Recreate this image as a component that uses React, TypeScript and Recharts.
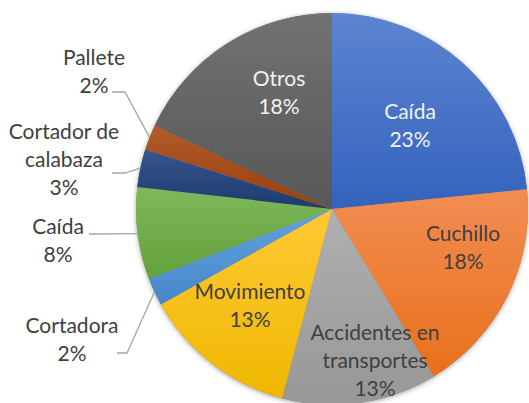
import { PieChart, Pie, Cell } from "recharts";

// causes of accidents, clockwise from 12 o'clock
const categories = [
  "Caída",
  "Cuchillo",
  "Accidentes en transportes",
  "Movimiento",
  "Cortadora",
  "Caída",
  "Cortador de calabaza",
  "Pallete",
  "Otros",
];
const shares = [23.4, 17.9, 12.8, 12.8, 2.3, 7.6, 3.1, 2.1, 18.0];
const labelLines = [
  ["Caída"],
  ["Cuchillo"],
  ["Accidentes en", "transportes"],
  ["Movimiento"],
  ["Cortadora"],
  ["Caída"],
  ["Cortador de", "calabaza"],
  ["Pallete"],
  ["Otros"],
];

const data = categories.map((name, i) => ({ name, value: shares[i] }));
const backdrop = [{ name: "bg", value: 1 }];

const colors: [string, string][] = [
  ["#5C84D1", "#3463BD"],
  ["#F28D52", "#E8701C"],
  ["#B0B0B0", "#979797"],
  ["#FFC935", "#EFB700"],
  ["#62A2DD", "#4787C8"],
  ["#7EB95A", "#63A13A"],
  ["#36558E", "#1E3B6E"],
  ["#B25C2C", "#983F0A"],
  ["#727272", "#575757"],
];

const lightText = [true, false, false, false, false, false, false, false, true];

// label layout: inside -> text center offset from pie center; outside -> text center + leader path
type Layout =
  | { kind: "in"; dx: number; dy: number }
  | { kind: "out"; x: number; y: number; path: [number, number][] };

const layout: Layout[] = [
  { kind: "in", dx: 78, dy: -83 },
  { kind: "in", dx: 131, dy: 39 },
  { kind: "in", dx: 43, dy: 152 },
  { kind: "in", dx: -82, dy: 97 },
  { kind: "out", x: 72, y: 340, path: [[127, 353], [117, 353]] },
  { kind: "out", x: 58, y: 241, path: [[89, 234]] },
  { kind: "out", x: 64, y: 160, path: [[125, 173], [112, 173]] },
  { kind: "out", x: 94, y: 72, path: [[125, 92], [112, 92]] },
  { kind: "in", dx: -53, dy: -116 },
];

const RAD = Math.PI / 180;
const FONT = "Lato, 'Open Sans', sans-serif";
const LINE_H = 28;

function renderLabel(props: any) {
  const { cx, cy, midAngle, outerRadius, index } = props;
  const l = layout[index];
  const lines = [...labelLines[index], Math.round(shares[index]) + "%"];
  const color = lightText[index] ? "#F2F2F2" : "#404040";
  let tx: number, ty: number;
  let leader: JSX.Element | null = null;
  if (l.kind === "in") {
    tx = cx + l.dx;
    ty = cy + l.dy;
  } else {
    tx = l.x;
    ty = l.y;
    const ex = cx + outerRadius * Math.cos(-midAngle * RAD);
    const ey = cy + outerRadius * Math.sin(-midAngle * RAD);
    const pts = [[ex, ey], ...l.path].map((p) => p.join(",")).join(" ");
    leader = <polyline points={pts} fill="none" stroke="#A6A6A6" strokeWidth={1.3} />;
  }
  const top = ty - ((lines.length - 1) * LINE_H) / 2;
  return (
    <g key={"lbl" + index}>
      {leader}
      <text x={tx} y={top} textAnchor="middle" fontFamily={FONT} fontSize={21} fill={color}>
        {lines.map((s, k) => (
          <tspan key={k} x={tx} y={top + k * LINE_H} dy="0.35em">
            {s}
          </tspan>
        ))}
      </text>
    </g>
  );
}

export default function App() {
  return (
    <div style={{ position: "fixed", left: 0, top: 0, background: "#fff" }}>
      <PieChart width={529} height={403} margin={{ top: 0, right: 0, bottom: 0, left: 0 }}>
        <defs>
          {colors.map(([a, b], i) => (
            <linearGradient key={i} id={"g" + i} x1="0" y1="0" x2="0" y2="1">
              <stop offset="0%" stopColor={a} />
              <stop offset="100%" stopColor={b} />
            </linearGradient>
          ))}
          <filter id="shadow" x="-10%" y="-10%" width="120%" height="120%">
            <feDropShadow dx="0" dy="1" stdDeviation="2.5" floodColor="#000" floodOpacity="0.35" />
          </filter>
        </defs>
        <Pie
          data={backdrop}
          dataKey="value"
          cx={332}
          cy={209}
          outerRadius={196}
          startAngle={90}
          endAngle={-270}
          stroke="none"
          fill="#888"
          style={{ filter: "url(#shadow)" }}
          isAnimationActive={false}
          label={false}
          labelLine={false}
        />
        <Pie
          data={data}
          dataKey="value"
          nameKey="name"
          cx={332}
          cy={209}
          outerRadius={196}
          startAngle={90}
          endAngle={-270}
          stroke="none"
          isAnimationActive={false}
          label={renderLabel}
          labelLine={false}
        >
          {data.map((d, i) => (
            <Cell key={i} fill={`url(#g${i})`} />
          ))}
        </Pie>
      </PieChart>
    </div>
  );
}
